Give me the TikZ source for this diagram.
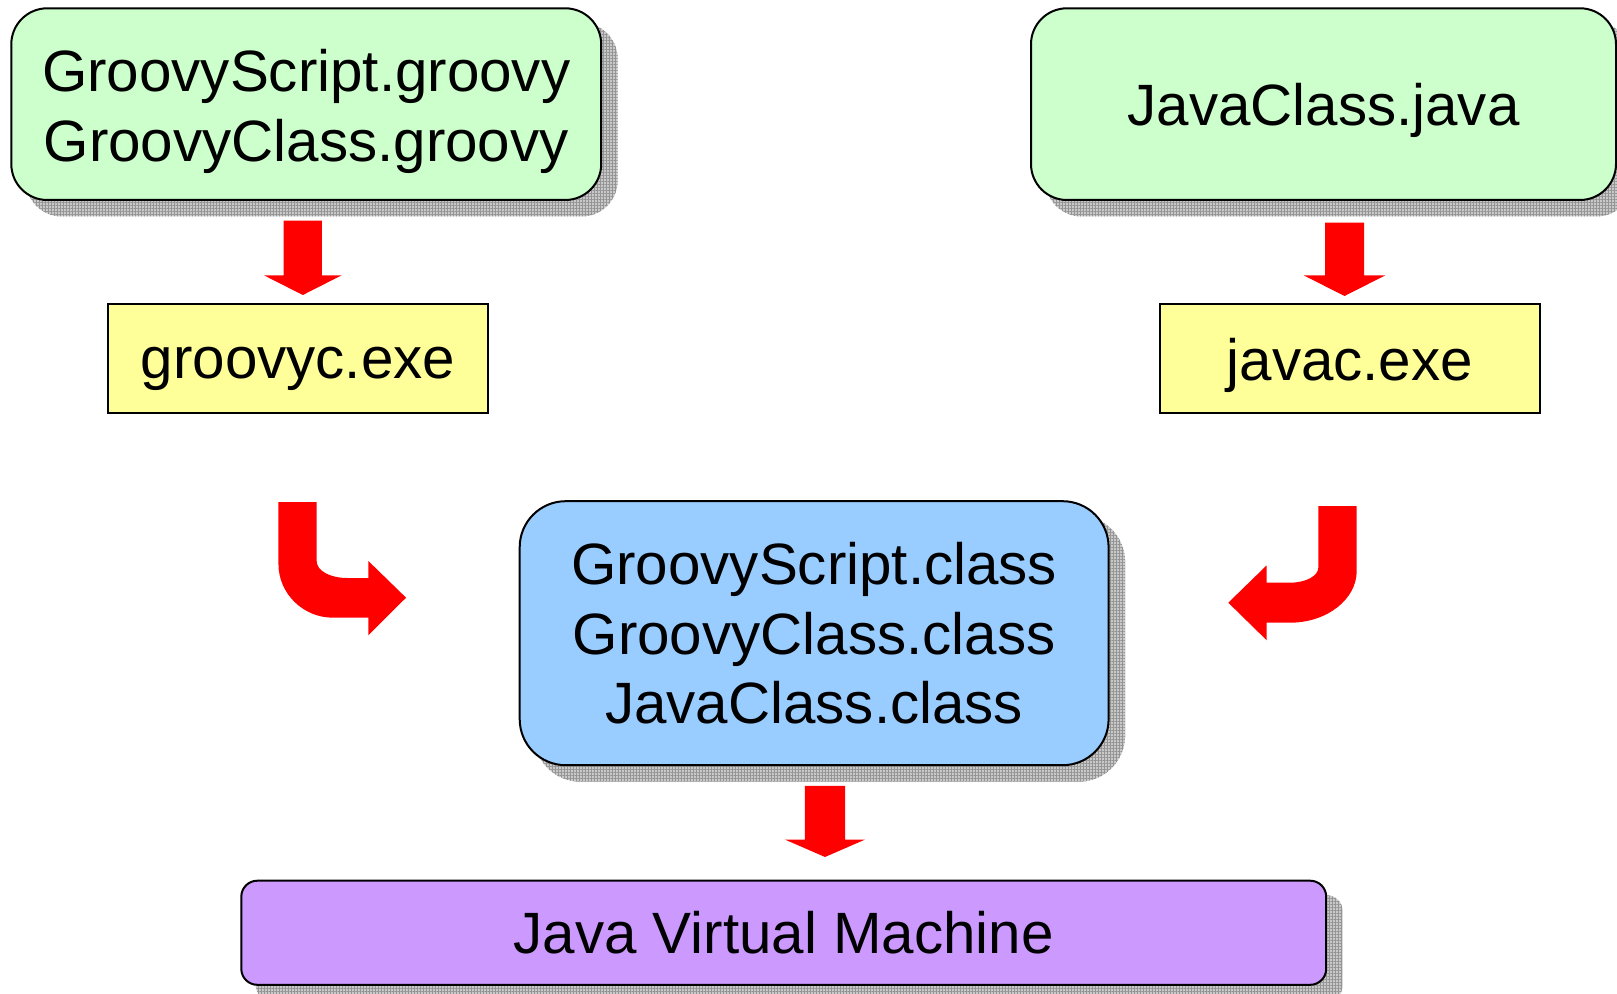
\documentclass[tikz,border=0pt]{standalone}
\usepackage{fontspec}
\setmainfont{Liberation Sans}
\usetikzlibrary{calc,backgrounds,patterns.meta}
\definecolor{srcgreen}{HTML}{CCFFCC}
\definecolor{toolyellow}{HTML}{FFFF99}
\definecolor{classblue}{HTML}{99CCFF}
\definecolor{vmpurple}{HTML}{CC99FF}
\definecolor{arrowred}{HTML}{FF0000}
\tikzset{
  box/.style={draw=black, line width=1pt, inner sep=0pt, align=center,
    font=\fontsize{29.15pt}{34.9pt}\selectfont},
  shadowfill/.style={preaction={fill=black!21},
    pattern={Hatch[angle=0,distance=1.5pt,line width=0.35pt]}, pattern color=black!42},
  blkred/.style={fill=arrowred, draw=none},
}
\newcommand\lowtext[2]{\raisebox{-#1}[\height][\depth]{#2}}
% #1 x, #2 from node, #3 to node, #4 top gap, #5 tip gap, #6 head length, #7 shaft half width, #8 head half width
\newcommand\blkarrow[8]{%
  \path (#1,0 |- #2.south) coordinate (bs) (#1,0 |- #3.north) coordinate (bt);
  \fill[blkred] ($(bs)+(-#7,#4)$) -- ($(bs)+(#7,#4)$) -- ($(bt)+(#7,-#5-#6)$)
    -- ($(bt)+(#8,-#5-#6)$) -- ($(bt)+(0,-#5)$) -- ($(bt)+(-#8,-#5-#6)$)
    -- ($(bt)+(-#7,-#5-#6)$) -- cycle;
}
% #1 node, #2 corner radius
\newcommand\boxshadow[2]{%
  \begin{scope}[on background layer]
    \path[shadowfill, rounded corners=#2] ($(#1.north west)+(15.5,15.5)$) rectangle ($(#1.south east)+(15.5,15.5)$);
  \end{scope}
}
\begin{document}
\begin{tikzpicture}[x=0.5pt,y=-0.5pt]
\useasboundingbox (0,0) rectangle (1617,994);

\node[box, fill=srcgreen, rounded corners=18pt, minimum width=294.95pt, minimum height=95.85pt]
  (gsrc) at (306.25,104.15) {\lowtext{3.5pt}{GroovyScript.groovy}\\\lowtext{3.5pt}{GroovyClass.groovy}};
\node[box, fill=srcgreen, rounded corners=18pt, minimum width=292.5pt, minimum height=95.85pt]
  (jsrc) at (1323.5,104.15) {\lowtext{3pt}{JavaClass.java}};
\node[box, fill=toolyellow, minimum width=189.75pt, minimum height=54.65pt]
  (groovyc) at (298.05,358.85) {\lowtext{5pt}{groovyc.exe}};
\node[box, fill=toolyellow, minimum width=189.85pt, minimum height=54.65pt]
  (javac) at (1349.85,358.85) {\lowtext{3.5pt}{javac.exe}};
\node[box, fill=classblue, rounded corners=23pt, minimum width=294.45pt, minimum height=132pt]
  (classes) at (814.15,633.2) {GroovyScript.class\\GroovyClass.class\\JavaClass.class};
\node[box, fill=vmpurple, rounded corners=8pt, minimum width=542.45pt, minimum height=52.05pt]
  (jvm) at (783.75,932.75) {Java Virtual Machine};

\boxshadow{gsrc}{18pt}
\boxshadow{jsrc}{18pt}
\boxshadow{classes}{23pt}
\boxshadow{jvm}{8pt}

\blkarrow{302.8}{gsrc}{groovyc}{19.7}{8.2}{19.6}{19.1}{38.7}
\blkarrow{1344.5}{jsrc}{javac}{21.7}{7.2}{20.6}{19.5}{40.75}
\blkarrow{825}{classes}{jvm}{19.6}{22.7}{17.5}{20.1}{40.2}

% curved arrow: groovyc -> classes
\begin{scope}[shift={(groovyc.south)}]
  \fill[blkred] (-19.6,87.7) -- (18.6,87.7) -- (18.6,146.5)
    .. controls (18.6,156.5) and (32.5,163.5) .. (49,163.5)
    -- (70.3,163.5) -- (70.3,146.5) -- (108,183.2) -- (70.3,220.8) -- (70.3,203.2)
    -- (35,203.2) .. controls (5,203.2) and (-19.6,179) .. (-19.6,149.5) -- cycle;
\end{scope}
% curved arrow: javac -> classes
\begin{scope}[shift={(javac.south)}]
  \fill[blkred] (-31.55,91.5) -- (6.85,91.5) -- (6.85,156.5)
    .. controls (6.85,184.9) and (-23.15,208.2) .. (-59.85,208.2)
    -- (-83.15,208.2) -- (-83.15,225.8) -- (-121.55,188.2) -- (-83.15,150.8) -- (-83.15,168.2)
    -- (-59.85,168.2) .. controls (-44.25,168.2) and (-31.55,161.5) .. (-31.55,153.2) -- cycle;
\end{scope}
\end{tikzpicture}
\end{document}
